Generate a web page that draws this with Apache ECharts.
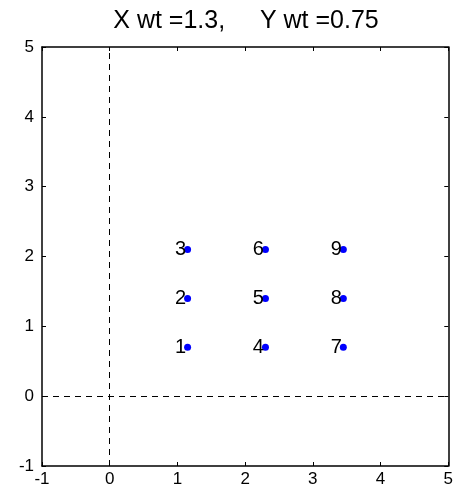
<!DOCTYPE html>
<html>
<head>
<meta charset="utf-8">
<script src="https://cdn.jsdelivr.net/npm/echarts@6/dist/echarts.min.js"></script>
<style>html,body{margin:0;padding:0;background:#fff;}#c{width:456px;height:491px;}</style>
</head>
<body>
<div id="c"></div>
<script>
var titleText = 'X wt =1.3,     Y wt =0.75';
var xTicks = [-1, 0, 1, 2, 3, 4, 5];
var yTicks = [-1, 0, 1, 2, 3, 4, 5];
var pointX = [1.15, 1.15, 1.15, 2.3, 2.3, 2.3, 3.45, 3.45, 3.45];
var pointY = [0.7, 1.4, 2.1, 0.7, 1.4, 2.1, 0.7, 1.4, 2.1];
var pointLabels = ['1', '2', '3', '4', '5', '6', '7', '8', '9'];
var refLineX = [0];
var refLineY = [0];

var FONT = 'Liberation Sans, Arial, sans-serif';
var chart = echarts.init(document.getElementById('c'), null, {renderer: 'canvas'});
var pts = pointX.map(function (x, i) { return [x, pointY[i], pointLabels[i]]; });

function axisCommon(showLabels, ticks, margin) {
  return {
    type: 'value', min: ticks[0], max: ticks[ticks.length - 1], interval: 1,
    axisLine: {show: true, onZero: false, lineStyle: {color: '#000', width: 1.5}},
    axisTick: {show: true, inside: true, length: 4, lineStyle: {color: '#000'}},
    axisLabel: {show: showLabels, color: '#000', fontFamily: FONT, fontSize: 17, margin: margin},
    splitLine: {show: false}
  };
}
var xb = axisCommon(true, xTicks, 5); xb.position = 'bottom';
var xt = axisCommon(false, xTicks, 5); xt.position = 'top';
var yl = axisCommon(true, yTicks, 8); yl.position = 'left';
var yr = axisCommon(false, yTicks, 8); yr.position = 'right';

chart.setOption({
  animation: false,
  backgroundColor: '#fff',
  title: {
    text: titleText, left: 241, top: 4, textAlign: 'center',
    textStyle: {color: '#000', fontFamily: FONT, fontSize: 25, fontWeight: 'normal'}
  },
  grid: {left: 42, right: 4, top: 47, bottom: 25},
  xAxis: [xb, xt],
  yAxis: [yl, yr],
  series: [{
    type: 'scatter',
    data: pts,
    symbol: 'circle',
    symbolSize: 7,
    itemStyle: {color: '#0000ff', opacity: 1},
    label: {
      show: true, position: 'left', distance: -2,
      formatter: function (p) { return p.data[2]; },
      color: '#000', fontFamily: FONT, fontSize: 20
    },
    markLine: {
      silent: true, symbol: 'none', label: {show: false},
      lineStyle: {color: '#000', type: [6, 5], width: 1},
      data: refLineX.map(function (v) { return {xAxis: v}; })
        .concat(refLineY.map(function (v) { return {yAxis: v}; }))
    }
  }]
});
</script>
</body>
</html>
